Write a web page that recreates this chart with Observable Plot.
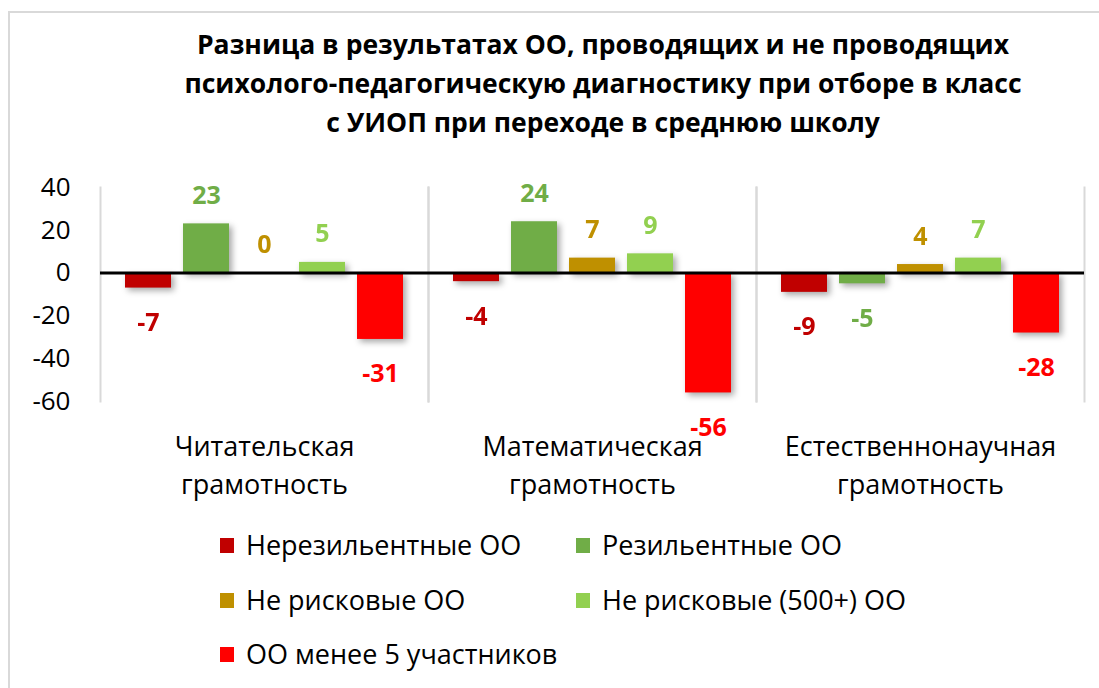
<!DOCTYPE html>
<html><head><meta charset="utf-8">
<script src="https://cdn.jsdelivr.net/npm/d3@7"></script>
<script src="https://cdn.jsdelivr.net/npm/@observablehq/plot@0.6"></script>
<style>
body{margin:0;background:#fff;font-family:"Open Sans",sans-serif;}
#wrap{position:relative;width:1099px;height:688px;overflow:hidden;background:#fff;}
#border{position:absolute;left:8px;top:11px;width:1200px;height:800px;border:2px solid #d9d9d9;box-sizing:border-box;}
#title{position:absolute;left:0;top:25px;width:1206px;text-align:center;font-weight:bold;font-size:26.5px;line-height:39px;color:#000;}
#chart{position:absolute;left:0;top:0;}
#chart svg g[aria-label="bar"]{filter:drop-shadow(3px 3px 3px rgba(0,0,0,0.35));}
.item{position:absolute;height:30px;line-height:30px;font-size:27px;color:#000;white-space:nowrap;}
.sw{position:absolute;left:0;top:8px;width:14px;height:15px;}
.lt{position:absolute;left:26px;top:0;}
</style></head>
<body>
<div id="wrap">
  <div id="border"></div>
  <div id="chart"></div>
  <div id="title">Разница в результатах ОО, проводящих и не проводящих<br>психолого-педагогическую диагностику при отборе в класс<br>с УИОП при переходе в среднюю школу</div>
  <div id="legend"></div>
</div>
<script>
const categories = ["Читательская грамотность","Математическая грамотность","Естественнонаучная грамотность"];
const series = ["Нерезильентные ОО","Резильентные ОО","Не рисковые ОО","Не рисковые (500+) ОО","ОО менее 5 участников"];
const colors = ["#C00000","#70AD47","#BF9000","#92D050","#FF0000"];
const nonResilient = [-7,-4,-9];
const resilient = [23,24,-5];
const notRisky = [0,7,4];
const notRisky500 = [5,9,7];
const under5 = [-31,-56,-28];
const yTicks = [-60,-40,-20,0,20,40];

const seriesValues = [nonResilient, resilient, notRisky, notRisky500, under5];
const data = categories.flatMap((c,i)=>series.map((s,j)=>({category:c, series:s, value:seriesValues[j][i]})));

const chart = Plot.plot({
  width:1099, height:510,
  marginTop:187, marginBottom:109, marginLeft:99, marginRight:14,
  style:{fontFamily:'"Open Sans", sans-serif', background:"transparent", overflow:"visible"},
  fx:{domain:categories, padding:0, axis:null},
  x:{domain:series, paddingInner:0.2, paddingOuter:0.4, axis:null},
  y:{domain:[-60,40], axis:null},
  color:{domain:series, range:colors},
  marks:[
    Plot.frame({anchor:"left", stroke:"#d9d9d9", strokeWidth:2}),
    Plot.frame({anchor:"right", stroke:"#d9d9d9", strokeWidth:2}),
    Plot.barY(data,{fx:"category", x:"series", y:"value", fill:"series"}),
    Plot.ruleY([0],{stroke:"#000", strokeWidth:3}),
    Plot.axisY({ticks:yTicks, tickSize:0, tickPadding:30, fontSize:26, fill:"#000", label:null, tickFormat:d=>String(d)}),
    Plot.text(data.filter(d=>d.value>=0),{fx:"category", x:"series", y:"value", text:d=>String(d.value), fill:"series", dy:-28, fontSize:25, fontWeight:"bold"}),
    Plot.text(data.filter(d=>d.value<0),{fx:"category", x:"series", y:"value", text:d=>String(d.value), fill:"series", dy:35, fontSize:25, fontWeight:"bold"}),
    Plot.text(categories,{fx:d=>d, text:d=>d.replace(" ","\n"), frameAnchor:"bottom", lineAnchor:"top", dy:27, lineHeight:1.42, fontSize:27, fill:"#000"})
  ]
});
document.getElementById("chart").appendChild(chart);

const legend = document.getElementById("legend");
series.forEach((s,i)=>{
  const col = i%2, row = Math.floor(i/2);
  const it = document.createElement("div");
  it.className = "item";
  it.style.left = (col ? 576 : 220) + "px";
  it.style.top = (530 + row*54.5) + "px";
  const sw = document.createElement("span"); sw.className="sw"; sw.style.background = colors[i];
  const lt = document.createElement("span"); lt.className="lt"; lt.textContent = s;
  it.appendChild(sw); it.appendChild(lt);
  legend.appendChild(it);
});
</script>
</body></html>
